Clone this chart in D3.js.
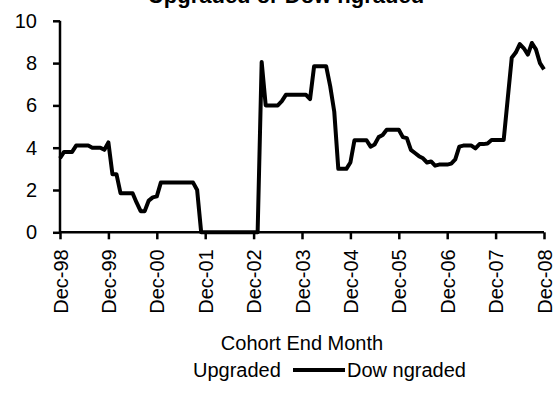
<!DOCTYPE html>
<html>
<head>
<meta charset="utf-8">
<script src="https://cdn.jsdelivr.net/npm/d3@7"></script>
<style>
  html, body { margin: 0; padding: 0; background: #fff; }
  svg { display: block; font-family: Arial, "Liberation Sans", sans-serif; }
</style>
</head>
<body>
<svg id="chart" width="555" height="393"></svg>
<script>
// ---- data (monthly, Dec-98 .. Dec-08) ----
const title = "Upgraded or Dow ngraded";
const xAxisTitle = "Cohort End Month";
const legendLabels = ["Upgraded", "Dow ngraded"];
const tickLabels = ["Dec-98","Dec-99","Dec-00","Dec-01","Dec-02","Dec-03","Dec-04","Dec-05","Dec-06","Dec-07","Dec-08"];
const yTicks = [0, 2, 4, 6, 8, 10];
const downgraded = [
  3.5, 3.8, 3.8, 3.8, 4.1, 4.1, 4.1, 4.1, 4.0, 4.0, 4.0, 3.9,   // Dec-98 .. Nov-99
  4.25, 2.75, 2.75, 1.85, 1.85, 1.85, 1.85, 1.4, 1.0, 1.0, 1.5, 1.65, // Dec-99 .. Nov-00
  1.7, 2.35, 2.35, 2.35, 2.35, 2.35, 2.35, 2.35, 2.35, 2.35, 2.0, 0, // Dec-00 .. Nov-01
  0, 0, 0, 0, 0, 0, 0, 0, 0, 0, 0, 0,                           // Dec-01 .. Nov-02
  0, 0, 8.05, 6.0, 6.0, 6.0, 6.0, 6.2, 6.5, 6.5, 6.5, 6.5,      // Dec-02 .. Nov-03
  6.5, 6.5, 6.3, 7.85, 7.85, 7.85, 7.85, 6.9, 5.7, 3.0, 3.0, 3.0, // Dec-03 .. Nov-04
  3.3, 4.35, 4.35, 4.35, 4.35, 4.05, 4.15, 4.5, 4.6, 4.85, 4.85, 4.85, // Dec-04 .. Nov-05
  4.85, 4.5, 4.45, 3.9, 3.75, 3.6, 3.5, 3.3, 3.35, 3.15, 3.2, 3.2, // Dec-05 .. Nov-06
  3.2, 3.25, 3.45, 4.05, 4.1, 4.1, 4.1, 3.97, 4.17, 4.17, 4.2, 4.36, // Dec-06 .. Nov-07
  4.36, 4.36, 4.36, 6.3, 8.25, 8.5, 8.9, 8.7, 8.4, 8.95, 8.65, 8.0, // Dec-07 .. Nov-08
  7.7                                                           // Dec-08
];

// ---- layout ----
const svg = d3.select("#chart");
const x = d3.scaleLinear().domain([0, 120]).range([60, 544]);
const y = d3.scaleLinear().domain([0, 10]).range([232.3, 20.8]);

// title (cut off at top as in reference)
svg.append("text")
  .attr("x", 286).attr("y", 3)
  .attr("text-anchor", "middle")
  .attr("font-size", 22).attr("font-weight", "bold")
  .text(title);

// y axis
const yAxis = d3.axisLeft(y).tickValues(yTicks).tickSize(7).tickPadding(16).tickFormat(d3.format("d"));
const gy = svg.append("g").attr("transform", `translate(${x(0)},0)`).call(yAxis);
gy.select(".domain").attr("stroke", "#000").attr("stroke-width", 2.5).attr("d", `M0,${y(10)}V${y(0)}`);
gy.selectAll(".tick line").attr("stroke", "#000").attr("stroke-width", 2.5);
gy.selectAll(".tick text").attr("font-size", 20).attr("fill", "#000").attr("font-family", "Arial, 'Liberation Sans', sans-serif");

// x axis
const xTickVals = tickLabels.map((_, i) => i * 12);
const xAxis = d3.axisBottom(x).tickValues(xTickVals).tickSize(7).tickFormat((d, i) => tickLabels[i]);
const gx = svg.append("g").attr("transform", `translate(0,${y(0)})`).call(xAxis);
gx.select(".domain").attr("stroke", "#000").attr("stroke-width", 2.5).attr("d", `M${x(0)},0H${x(120)}`);
gx.selectAll(".tick line").attr("stroke", "#000").attr("stroke-width", 2.5);
gx.selectAll(".tick text")
  .attr("font-size", 20).attr("fill", "#000").attr("font-family", "Arial, 'Liberation Sans', sans-serif")
  .attr("text-anchor", "end")
  .attr("transform", "rotate(-90)")
  .attr("x", -17).attr("y", 0).attr("dy", "0.35em");

// line
const line = d3.line().x((d, i) => x(i)).y(d => y(d));
svg.append("path")
  .datum(downgraded)
  .attr("fill", "none")
  .attr("stroke", "#000")
  .attr("stroke-width", 4)
  .attr("stroke-linejoin", "round")
  .attr("d", line);

// axis title
svg.append("text")
  .attr("x", 302).attr("y", 350)
  .attr("text-anchor", "middle")
  .attr("font-size", 20)
  .text(xAxisTitle);

// legend
svg.append("text").attr("x", 193).attr("y", 377).attr("font-size", 20).text(legendLabels[0]);
svg.append("line").attr("x1", 293).attr("x2", 345).attr("y1", 370).attr("y2", 370)
  .attr("stroke", "#000").attr("stroke-width", 4);
svg.append("text").attr("x", 347).attr("y", 377).attr("font-size", 20).text(legendLabels[1]);
</script>
</body>
</html>
